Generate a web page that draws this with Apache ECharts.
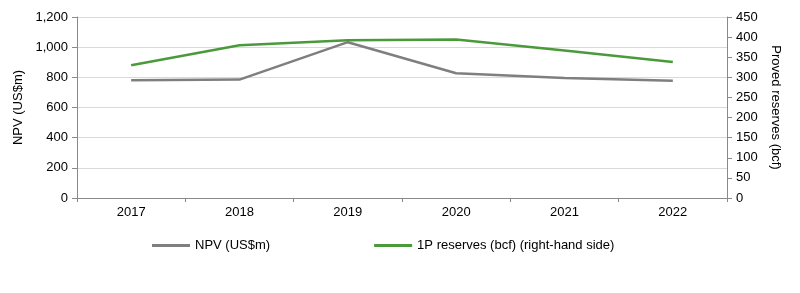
<!DOCTYPE html>
<html><head><meta charset="utf-8">
<script src="https://cdn.jsdelivr.net/npm/echarts@6/dist/echarts.min.js"></script>
<style>html,body{margin:0;padding:0;background:#fff}#c{width:800px;height:293px}</style>
</head><body><div id="c"></div>
<script>
const categories = ['2017','2018','2019','2020','2021','2022'];
const npv = [780, 785, 1033, 827, 795, 777];
const reserves = [330, 380, 392, 394, 367, 338];
const leftTicks = [0, 1200, 200];
const rightTicks = [0, 450, 50];

const chart = echarts.init(document.getElementById('c'));
const font = 'Liberation Sans, Arial, sans-serif';
chart.setOption({
  animation: false,
  textStyle: {fontFamily: font},
  grid: {left: 77, right: 73, top: 17, bottom: 95},
  legend: {
    bottom: 36, left: 147, itemGap: 104, itemWidth: 38, itemHeight: 3,
    icon: 'rect',
    textStyle: {fontFamily: font, fontSize: 13, color: '#000'},
    data: ['NPV (US$m)', '1P reserves (bcf) (right-hand side)']
  },
  xAxis: {
    type: 'category', data: categories, boundaryGap: true,
    axisLine: {lineStyle: {color: '#898989'}},
    axisTick: {show: true, alignWithLabel: false, length: 4, lineStyle: {color: '#898989'}},
    axisLabel: {color: '#000', fontSize: 13, margin: 8, fontFamily: font}
  },
  yAxis: [{
    type: 'value', min: leftTicks[0], max: leftTicks[1], interval: leftTicks[2],
    name: 'NPV (US$m)', nameLocation: 'middle', nameGap: 52,
    nameTextStyle: {color: '#000', fontSize: 13, fontFamily: font},
    axisLine: {show: true, lineStyle: {color: '#898989'}},
    axisTick: {show: true, length: 5, lineStyle: {color: '#898989'}},
    axisLabel: {color: '#000', fontSize: 13, margin: 9, fontFamily: font,
      formatter: v => v.toLocaleString('en-US')},
    splitLine: {lineStyle: {color: '#d9d9d9'}}
  }, {
    type: 'value', min: rightTicks[0], max: rightTicks[1], interval: rightTicks[2],
    name: 'Proved reserves (bcf)', nameLocation: 'middle', nameGap: 40, nameRotate: -90,
    nameTextStyle: {color: '#000', fontSize: 13, fontFamily: font},
    axisLine: {show: true, lineStyle: {color: '#898989'}},
    axisTick: {show: true, length: 5, lineStyle: {color: '#898989'}},
    axisLabel: {color: '#000', fontSize: 13, margin: 9, fontFamily: font},
    splitLine: {show: false}
  }],
  series: [{
    name: 'NPV (US$m)', type: 'line', data: npv, yAxisIndex: 0,
    symbol: 'none', lineStyle: {color: '#7f7f7f', width: 2.5}, itemStyle: {color: '#7f7f7f'}
  }, {
    name: '1P reserves (bcf) (right-hand side)', type: 'line', data: reserves, yAxisIndex: 1,
    symbol: 'none', lineStyle: {color: '#4a9a3c', width: 2.5}, itemStyle: {color: '#4a9a3c'}
  }]
});
</script></body></html>
